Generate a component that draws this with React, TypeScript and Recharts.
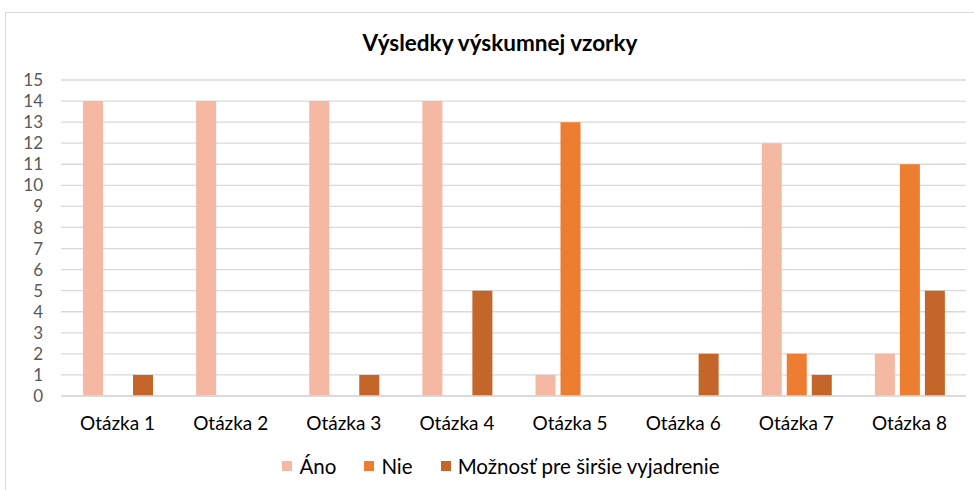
import React from 'react';
import { BarChart, Bar, XAxis, YAxis, CartesianGrid } from 'recharts';

const categories = ['Otázka 1', 'Otázka 2', 'Otázka 3', 'Otázka 4', 'Otázka 5', 'Otázka 6', 'Otázka 7', 'Otázka 8'];
const ano = [14, 14, 14, 14, 1, 0, 12, 2];
const nie = [0, 0, 0, 0, 13, 0, 2, 11];
const moznost = [1, 0, 1, 5, 0, 2, 1, 5];
const yTicks = [0, 1, 2, 3, 4, 5, 6, 7, 8, 9, 10, 11, 12, 13, 14, 15];
const seriesNames = ['Áno', 'Nie', 'Možnosť pre širšie vyjadrenie'];
const seriesKeys = ['ano', 'nie', 'moznost'];
const seriesColors = ['#F4B8A3', '#ED7D31', '#C46529'];
const title = 'Výsledky výskumnej vzorky';

const data = categories.map((c, i) => ({ name: c, ano: ano[i], nie: nie[i], moznost: moznost[i] }));

const FONT = 'Lato, "Noto Sans", sans-serif';

export default function App() {
  return (
    <div style={{ position: 'absolute', left: 0, top: 0, width: 974, height: 490, background: '#fff', overflow: 'hidden', fontFamily: FONT }}>
      <div style={{ position: 'absolute', left: 5, top: 12, width: 1000, height: 500, border: '1px solid #d9d9d9', boxSizing: 'border-box' }} />
      <div style={{ position: 'absolute', left: 0, top: 29, width: 1000, textAlign: 'center', fontSize: 22.5, lineHeight: '28px', fontWeight: 'bold', color: '#000' }}>{title}</div>
      <div style={{ position: 'absolute', left: 5, top: 0 }}>
        <BarChart width={961} height={490} data={data} margin={{ top: 80, right: 0, left: 0, bottom: 64 }} barSize={20} barGap={5}>
          <CartesianGrid vertical={false} stroke="#d9d9d9" strokeWidth={1.3} />
          <XAxis dataKey="name" height={30} tickLine={false} axisLine={{ stroke: '#d9d9d9', strokeWidth: 1.3 }} tickSize={0} tickMargin={21} tick={{ fill: '#000', fontSize: 19, fontFamily: FONT }} interval={0} />
          <YAxis width={56} domain={[0, 15]} ticks={yTicks} interval={0} tickLine={false} axisLine={false} tickSize={0} tickMargin={18} tick={{ fill: '#595959', fontSize: 17, fontFamily: FONT }} />
          {seriesKeys.map((k, i) => (
            <Bar key={k} dataKey={k} name={seriesNames[i]} fill={seriesColors[i]} isAnimationActive={false} />
          ))}
        </BarChart>
      </div>
      <div style={{ position: 'absolute', left: 0, top: 453, width: 1002, display: 'flex', justifyContent: 'center', alignItems: 'center', fontSize: 20.5, lineHeight: '26px', color: '#000' }}>
        {seriesNames.map((n, i) => (
          <div key={n} style={{ display: 'flex', alignItems: 'center', marginRight: i < seriesNames.length - 1 ? 28 : 0 }}>
            <span style={{ display: 'inline-block', width: 10, height: 10, background: seriesColors[i], marginRight: 7 }} />
            <span>{n}</span>
          </div>
        ))}
      </div>
    </div>
  );
}
